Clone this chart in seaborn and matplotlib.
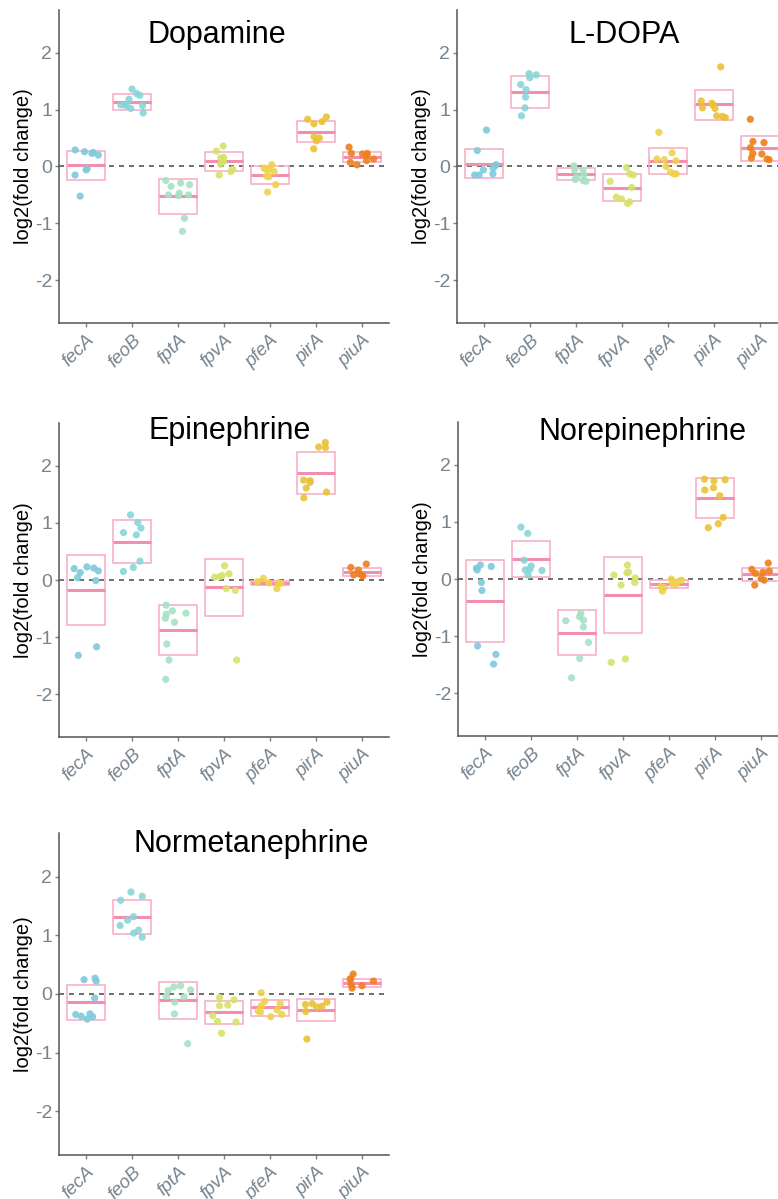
import numpy as np
import pandas as pd
import matplotlib
matplotlib.use("Agg")
import matplotlib.pyplot as plt
import seaborn as sns

genes = ['fecA', 'feoB', 'fptA', 'fpvA', 'pfeA', 'pirA', 'piuA']
gene_colors = ['#7fcadb', '#88d5d8', '#a6e2c3', '#d6e26c', '#efd24c', '#eac236', '#ef7f1e']

# points, one list per gene
dopamine_pts = [
    [0.29, 0.245, 0.26, 0.23, 0.20, -0.04, -0.06, -0.15, -0.52],
    [1.36, 1.28, 1.25, 1.18, 1.08, 1.07, 1.07, 1.08, 1.02, 0.94],
    [-0.245, -0.29, -0.32, -0.35, -0.47, -0.50, -0.50, -0.51, -0.91, -1.14],
    [0.36, 0.27, 0.16, 0.15, 0.09, 0.04, -0.05, -0.09, -0.15],
    [0.03, -0.03, -0.05, -0.05, -0.09, -0.17, -0.18, -0.32, -0.45],
    [0.87, 0.83, 0.79, 0.75, 0.52, 0.50, 0.45, 0.31],
    [0.34, 0.23, 0.23, 0.22, 0.20, 0.13, 0.105, 0.07, 0.03],
]
dopamine_mid = [0.02, 1.14, -0.52, 0.09, -0.145, 0.61, 0.165]
dopamine_lo = [-0.245, 1.0, -0.83, -0.08, -0.30, 0.43, 0.075]
dopamine_hi = [0.27, 1.27, -0.22, 0.25, 0.0, 0.80, 0.26]

ldopa_pts = [
    [0.64, 0.28, 0.03, 0.02, -0.03, -0.06, -0.13, -0.15, -0.15],
    [1.63, 1.61, 1.56, 1.44, 1.35, 1.22, 1.03, 0.89],
    [0.01, -0.06, -0.07, -0.15, -0.19, -0.23, -0.25, -0.26],
    [-0.02, -0.13, -0.15, -0.26, -0.37, -0.54, -0.57, -0.62, -0.65],
    [0.60, 0.24, 0.13, 0.12, 0.10, 0.0, -0.10, -0.13, -0.13],
    [1.75, 1.15, 1.11, 1.08, 1.03, 1.02, 0.89, 0.88, 0.86],
    [0.83, 0.44, 0.42, 0.33, 0.23, 0.22, 0.15, 0.13, 0.12],
]
ldopa_mid = [0.05, 1.31, -0.14, -0.37, 0.09, 1.09, 0.32]
ldopa_lo = [-0.20, 1.025, -0.23, -0.61, -0.14, 0.82, 0.09]
ldopa_hi = [0.31, 1.585, -0.035, -0.13, 0.32, 1.35, 0.54]

epinephrine_pts = [
    [0.20, 0.23, 0.21, 0.16, 0.13, 0.04, -0.01, -1.17, -1.32],
    [1.14, 1.01, 0.91, 0.83, 0.79, 0.33, 0.22, 0.15],
    [-0.44, -0.54, -0.58, -0.60, -0.67, -0.74, -1.12, -1.40, -1.74],
    [0.25, 0.11, 0.08, 0.05, 0.06, -0.15, -0.18, -1.40],
    [0.03, -0.03, -0.05, -0.06, -0.05, -0.15],
    [2.41, 2.33, 2.32, 1.75, 1.71, 1.74, 1.61, 1.54, 1.44],
    [0.28, 0.22, 0.175, 0.105, 0.09, 0.08, 0.07],
]
epinephrine_mid = [-0.18, 0.67, -0.87, -0.12, -0.05, 1.87, 0.145]
epinephrine_lo = [-0.79, 0.29, -1.32, -0.63, -0.09, 1.50, 0.075]
epinephrine_hi = [0.43, 1.05, -0.43, 0.37, -0.01, 2.24, 0.21]

norepinephrine_pts = [
    [0.245, 0.22, 0.19, 0.16, -0.06, -0.20, -1.17, -1.32, -1.49],
    [0.91, 0.80, 0.33, 0.17, 0.16, 0.23, 0.15, 0.07],
    [-0.60, -0.66, -0.72, -0.73, -0.84, -1.11, -1.39, -1.73],
    [0.245, 0.12, 0.11, 0.07, 0.02, -0.06, -0.105, -1.40, -1.46],
    [-0.02, -0.05, -0.08, -0.10, -0.135, -0.15, -0.21, 0.0],
    [1.75, 1.74, 1.72, 1.60, 1.56, 1.46, 1.08, 0.97, 0.90],
    [0.28, 0.17, 0.14, 0.12, 0.10, 0.01, -0.02, -0.105],
]
norepinephrine_mid = [-0.38, 0.35, -0.94, -0.275, -0.09, 1.42, 0.09]
norepinephrine_lo = [-1.105, 0.03, -1.33, -0.94, -0.15, 1.075, -0.03]
norepinephrine_hi = [0.33, 0.67, -0.55, 0.39, -0.02, 1.77, 0.20]

normetanephrine_pts = [
    [0.27, 0.245, 0.22, -0.07, -0.35, -0.34, -0.38, -0.39, -0.43],
    [1.74, 1.67, 1.60, 1.32, 1.26, 1.17, 1.09, 1.04, 0.97],
    [0.14, 0.12, 0.07, 0.06, -0.04, -0.05, -0.14, -0.34, -0.85],
    [-0.06, -0.10, -0.19, -0.20, -0.37, -0.47, -0.48, -0.67],
    [0.02, -0.125, -0.165, -0.20, -0.27, -0.31, -0.35, -0.39, -0.29],
    [-0.14, -0.165, -0.21, -0.22, -0.18, -0.30, -0.77],
    [0.34, 0.26, 0.245, 0.22, 0.16, 0.14, 0.10],
]
normetanephrine_mid = [-0.14, 1.32, -0.11, -0.31, -0.23, -0.27, 0.19]
normetanephrine_lo = [-0.44, 1.03, -0.43, -0.51, -0.37, -0.47, 0.12]
normetanephrine_hi = [0.155, 1.60, 0.205, -0.12, -0.10, -0.085, 0.26]

panels = [
    ('Dopamine', dopamine_pts, dopamine_mid, dopamine_lo, dopamine_hi),
    ('L-DOPA', ldopa_pts, ldopa_mid, ldopa_lo, ldopa_hi),
    ('Epinephrine', epinephrine_pts, epinephrine_mid, epinephrine_lo, epinephrine_hi),
    ('Norepinephrine', norepinephrine_pts, norepinephrine_mid, norepinephrine_lo, norepinephrine_hi),
    ('Normetanephrine', normetanephrine_pts, normetanephrine_mid, normetanephrine_lo, normetanephrine_hi),
]

# axes rectangles (figure fraction) and title anchor (data coords)
rects = [
    [0.0758, 0.7306, 0.4242, 0.2611],
    [0.5874, 0.7306, 0.4242, 0.2611],
    [0.0758, 0.3853, 0.4242, 0.2619],
    [0.5887, 0.3861, 0.4242, 0.2619],
    [0.0758, 0.0367, 0.4242, 0.2686],
]
title_pos = [(2.85, 2.17), (3.04, 2.17), (3.12, 2.47), (3.43, 2.44), (3.6, 2.43)]

sns.set_style('white')
plt.rcParams['font.family'] = ['Liberation Sans', 'DejaVu Sans']
plt.rcParams['axes.unicode_minus'] = False

grey = '#76848f'
box_col = '#f6a9c3'
med_col = '#f28fb0'

np.random.seed(7)
fig = plt.figure(figsize=(7.78, 11.99), dpi=100)

for (name, pts, mid, lo, hi), rect, tpos in zip(panels, rects, title_pos):
    ax = fig.add_axes(rect)
    rows = [(g, v) for g, vals in zip(genes, pts) for v in vals]
    df = pd.DataFrame(rows, columns=['gene', 'value'])
    xs = np.arange(len(genes))
    ax.bar(xs, np.array(hi) - np.array(lo), bottom=lo, width=0.82, fill=False,
           edgecolor=box_col, linewidth=1.1, zorder=2)
    ax.hlines(mid, xs - 0.41, xs + 0.41, color=med_col, linewidth=2.2, zorder=2)
    ax.axhline(0, color='#555555', linestyle=(0, (3, 3)), linewidth=1.2, zorder=1)
    sns.stripplot(data=df, x='gene', y='value', hue='gene', order=genes, hue_order=genes,
                  palette=dict(zip(genes, gene_colors)), jitter=0.28, size=5.2,
                  alpha=0.9, linewidth=0, legend=False, ax=ax, zorder=3)
    ax.set_xlim(-0.59, 6.59)
    ax.set_ylim(-2.75, 2.75)
    ax.set_yticks([-2, -1, 0, 1, 2])
    ax.set_xlabel('')
    ax.set_ylabel('log2(fold change)', fontsize=14.5, color='black', labelpad=1)
    ax.tick_params(axis='y', colors=grey, labelsize=14, length=3, width=1, pad=2, left=True)
    ax.tick_params(axis='x', colors=grey, labelsize=13.5, length=3, width=1, pad=3, bottom=True)
    for lab in ax.get_xticklabels():
        lab.set_rotation(45)
        lab.set_ha('right')
        lab.set_rotation_mode('anchor')
        lab.set_fontstyle('italic')
    sns.despine(ax=ax)
    for s in ['left', 'bottom']:
        ax.spines[s].set_color('#555555')
        ax.spines[s].set_linewidth(1.1)
    ax.text(tpos[0], tpos[1], name, fontsize=22, ha='center', va='baseline', color='black')

fig.savefig('out.png', dpi=100)
